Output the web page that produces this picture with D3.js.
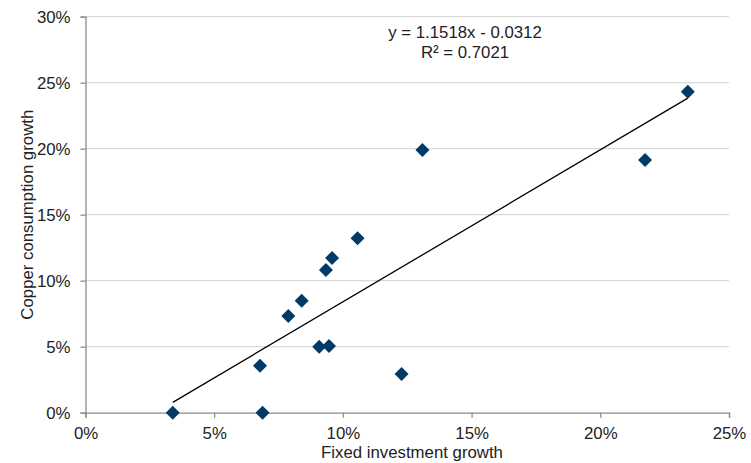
<!DOCTYPE html>
<html>
<head>
<meta charset="utf-8">
<script src="https://cdn.jsdelivr.net/npm/d3@7"></script>
<style>
  html, body { margin: 0; padding: 0; background: #fff; }
  svg { display: block; font-family: "Liberation Sans", Arial, sans-serif; }
</style>
</head>
<body>
<svg id="chart" width="751" height="463"></svg>
<script>
// Fixed investment growth (x) vs copper consumption growth (y), as fractions
const investmentGrowth = [0.0339, 0.0688, 0.0678, 0.0788, 0.0840, 0.0908, 0.0946, 0.0934, 0.0958, 0.1057, 0.1228, 0.1309, 0.2174, 0.2340];
const copperGrowth     = [0.0000, 0.0000, 0.0356, 0.0733, 0.0849, 0.0500, 0.0505, 0.1081, 0.1172, 0.1321, 0.0293, 0.1990, 0.1914, 0.2432];
const xTicks = [0, 0.05, 0.10, 0.15, 0.20, 0.25];
const yTicks = [0, 0.05, 0.10, 0.15, 0.20, 0.25, 0.30];
const trendSlope = 1.1518;
const trendIntercept = -0.0312;
const trendR2 = 0.7021;

const svg = d3.select("#chart");
const plot = { left: 85.5, right: 729, top: 16.7, bottom: 412.7 };
const fontSize = "16.8px";

const x = d3.scaleLinear().domain([0, 0.25]).range([plot.left, plot.right]);
const y = d3.scaleLinear().domain([0, 0.30]).range([plot.bottom, plot.top]);
const pct = d3.format(".0%");

// horizontal gridlines
svg.append("g")
  .selectAll("line")
  .data(yTicks.filter(d => d > 0))
  .join("line")
  .attr("x1", plot.left).attr("x2", plot.right)
  .attr("y1", d => y(d)).attr("y2", d => y(d))
  .attr("stroke", "#d9d9d9").attr("stroke-width", 1.3);

// axes
const xAxis = svg.append("g")
  .attr("transform", `translate(0,${plot.bottom})`)
  .call(d3.axisBottom(x).tickValues(xTicks).tickFormat(pct).tickSize(5).tickPadding(10));
const yAxis = svg.append("g")
  .attr("transform", `translate(${plot.left},0)`)
  .call(d3.axisLeft(y).tickValues(yTicks).tickFormat(pct).tickSize(5).tickPadding(10));

[xAxis, yAxis].forEach(g => {
  g.select(".domain").attr("stroke", "#8c8c8c").attr("stroke-width", 1.3);
  g.selectAll(".tick line").attr("stroke", "#8c8c8c").attr("stroke-width", 1.3);
  g.selectAll(".tick text").attr("fill", "#222").style("font-size", fontSize)
    .style("font-family", "'Liberation Sans', Arial, sans-serif");
});
yAxis.selectAll(".tick text").attr("dy", "0.35em");
xAxis.selectAll(".tick text").attr("dy", "0.68em");

// axis titles
svg.append("text")
  .attr("x", 412).attr("y", 458)
  .attr("text-anchor", "middle")
  .attr("fill", "#222").style("font-size", fontSize)
  .text("Fixed investment growth");
svg.append("text")
  .attr("transform", `translate(33,${(plot.top + plot.bottom) / 2}) rotate(-90)`)
  .attr("text-anchor", "middle")
  .attr("fill", "#222").style("font-size", fontSize)
  .text("Copper consumption growth");

// linear trendline across the x range of the data
const [xMin, xMax] = d3.extent(investmentGrowth);
svg.append("line")
  .attr("x1", x(xMin)).attr("y1", y(trendSlope * xMin + trendIntercept))
  .attr("x2", x(xMax)).attr("y2", y(trendSlope * xMax + trendIntercept))
  .attr("stroke", "#000").attr("stroke-width", 1.3);

// diamond markers
const points = investmentGrowth.map((v, i) => ({ x: v, y: copperGrowth[i] }));
const r = 7;
svg.append("g")
  .selectAll("path")
  .data(points)
  .join("path")
  .attr("d", d => {
    const cx = x(d.x), cy = y(d.y);
    return `M${cx},${cy - r}L${cx + r},${cy}L${cx},${cy + r}L${cx - r},${cy}Z`;
  })
  .attr("fill", "#003a66");

// trendline equation
const eq = svg.append("text")
  .attr("text-anchor", "middle")
  .attr("fill", "#222").style("font-size", fontSize);
eq.append("tspan").attr("x", 465).attr("y", 38)
  .text(`y = ${trendSlope.toFixed(4)}x - ${Math.abs(trendIntercept).toFixed(4)}`);
eq.append("tspan").attr("x", 465).attr("y", 58)
  .text(`R² = ${trendR2.toFixed(4)}`);
</script>
</body>
</html>
